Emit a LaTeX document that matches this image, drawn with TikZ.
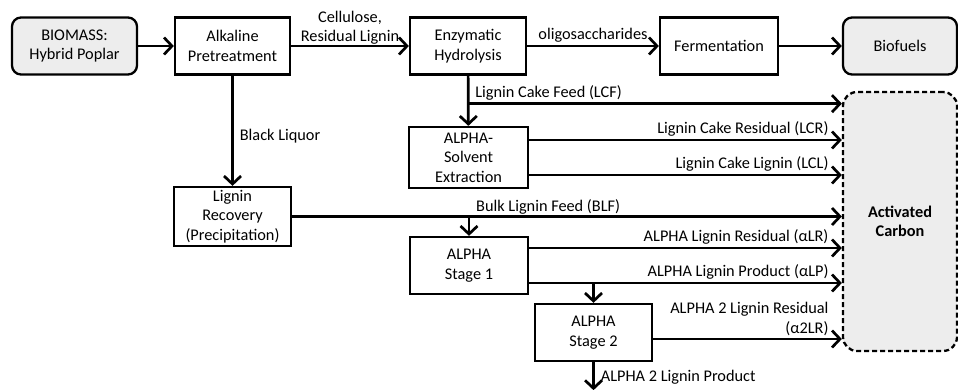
\documentclass[tikz,border=0pt]{standalone}
\usepackage{fontspec}
\setmainfont{Carlito}
\usetikzlibrary{arrows.meta}
\definecolor{shade}{HTML}{EDEDED}
\newcommand{\fs}{\fontsize{16.3}{19.5}\selectfont}
\tikzset{
  box/.style={draw, line width=2.3pt, align=center, inner sep=1pt, font=\fs,
    minimum height=57pt},
  ends/.style={box, rounded corners=9pt, fill=shade},
  flow/.style={-{Straight Barb[length=8pt,width=17pt]}, line width=2.7pt},
  tag/.style={font=\fs, inner sep=2pt, align=right},
}

\begin{document}
\begin{tikzpicture}[x=1pt, y=-1pt]
    \useasboundingbox (0,0) rectangle (958,389);
    % top row
    \node[ends, minimum width=125pt] (bio) at (74.5,46) {BIOMASS:\\Hybrid Poplar};
    \node[box, minimum width=115pt] (alk) at (232.5,46) {Alkaline\\Pretreatment};
    \node[box, minimum width=116pt] (enz) at (468,46) {Enzymatic\\Hydrolysis};
    \node[box, minimum width=118pt] (fer) at (719,46) {Fermentation};
    \node[ends, minimum width=114pt] (fuel) at (900,46) {Biofuels};
    % lignin side
    \node[box, minimum width=117pt, minimum height=59pt] (rec) at (232.5,216.5) {Lignin\\Recovery\\(Precipitation)};
    \node[box, minimum width=119pt, minimum height=61pt] (ase) at (468.5,157.5) {ALPHA-\\Solvent\\Extraction};
    \node[box, minimum width=118pt] (st1) at (469,265.5) {ALPHA\\Stage 1};
    \node[box, minimum width=117pt] (st2) at (593.5,332.5) {ALPHA\\Stage 2};
    \node[ends, dashed, dash pattern=on 5pt off 3pt, minimum width=114pt, minimum height=259pt,
      rounded corners=14pt, font=\fs\bfseries] (ac) at (900,221.5) {Activated\\Carbon};

    \draw[flow] (bio) -- (alk);
    \draw[flow] (alk) -- node[tag, above, align=center, yshift=-2pt] {Cellulose,\\Residual Lignin} (enz);
    \draw[flow] (enz) -- node[tag, above] {oligosaccharides} (fer);
    \draw[flow] (fer) -- (fuel);
    \draw[flow] (alk) -- node[tag, pos=0.55, right, xshift=4pt] {Black Liquor} (rec);
    \draw[flow] (enz) -- (ase);
    \draw[flow] (enz.south) ++(0,28) coordinate (lcf) -- (lcf -| ac.west)
      node[tag, pos=0, above right, xshift=4pt] {Lignin Cake Feed (LCF)};
    \draw[flow] ([yshift=17.5pt]ase.east) coordinate (lcr) -- (lcr -| ac.west)
      node[tag, pos=1, above left, xshift=-10pt] {Lignin Cake Residual (LCR)};
    \draw[flow] ([yshift=-17.5pt]ase.east) coordinate (lcl) -- (lcl -| ac.west)
      node[tag, pos=1, above left, xshift=-10pt] {Lignin Cake Lignin (LCL)};
    \draw[flow] (rec.east) -- (rec.east -| ac.west);
    \draw[flow] (rec.east -| st1.north) coordinate (blf) -- (st1.north);
    \node[tag, above right, xshift=5pt] (blftag) at (blf) {Bulk Lignin Feed (BLF)};
    \draw[flow] ([yshift=17.5pt]st1.east) coordinate (alr) -- (alr -| ac.west)
      node[tag, pos=1, above left, xshift=-10pt] {ALPHA Lignin Residual (αLR)};
    \draw[flow] ([yshift=-17.5pt]st1.east) coordinate (alp) -- (alp -| ac.west)
      node[tag, pos=1, above left, xshift=-10pt] {ALPHA Lignin Product (αLP)};
    \draw[flow] (alp -| st2.north) -- (st2.north);
    \draw[flow] ([yshift=-6.5pt]st2.east) coordinate (a2lr) -- (a2lr -| ac.west)
      node[tag, pos=1, above left, xshift=-10pt] {ALPHA 2 Lignin Residual\\(α2LR)};
    \draw[flow] (st2.south) -- ++(0,28) coordinate (a2lp)
      node[tag, pos=0.55, right, xshift=4pt] {ALPHA 2 Lignin Product};
  \end{tikzpicture}
\end{document}
